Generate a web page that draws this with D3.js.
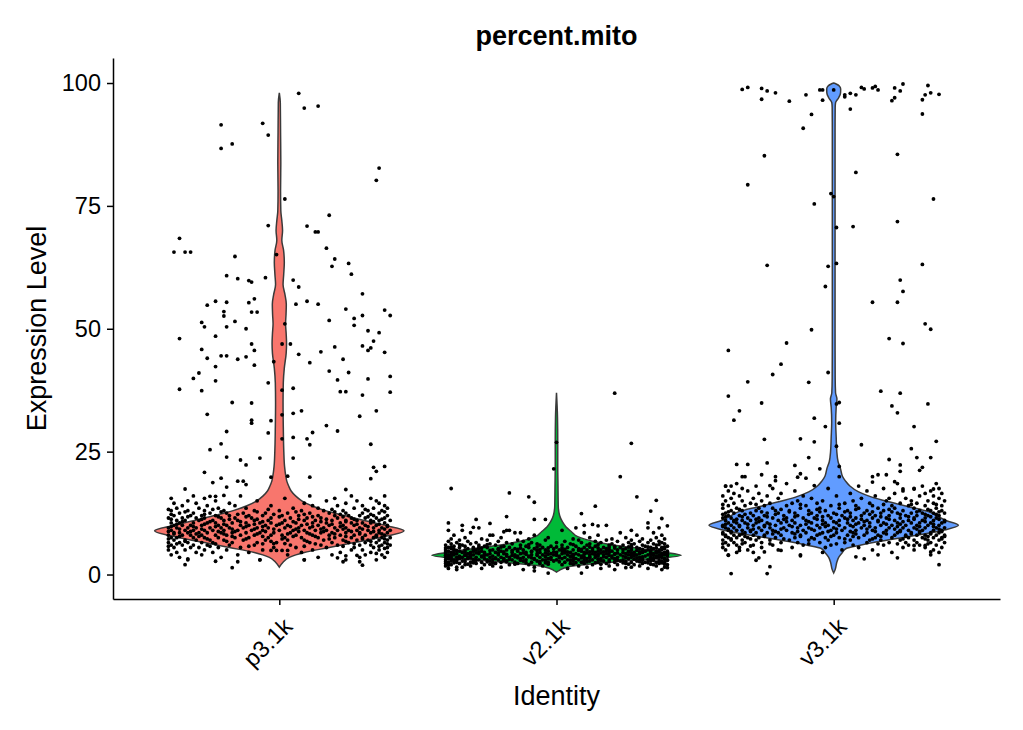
<!DOCTYPE html>
<html>
<head>
<meta charset="utf-8">
<script src="https://cdn.jsdelivr.net/npm/d3@7"></script>
<style>
  body { margin: 0; background: #fff; }
  text { font-family: "Liberation Sans", Arial, Helvetica, sans-serif; fill: #000; }
</style>
</head>
<body>
<div id="chart"></div>
<script>
'use strict';

var categories = [ 'p3.1k', 'v2.1k', 'v3.1k' ];
var colors = [ '#F8766D', '#00BA38', '#619CFF' ];
var yTicks = [ 0, 25, 50, 75, 100 ];

// violin outlines: [value, relative half width]
var p3Density = [ [1.5,0],[2.5,0.03],[3.5,0.08],[4.5,0.2],[5.5,0.4],[6.5,0.6],[7.5,0.8],[8.9,1],[10,0.85],[11,0.68],
  [12,0.52],[13,0.37],[14,0.26],[15,0.18],[16,0.13],[17,0.095],[18,0.075],[19,0.06],[20,0.052],[22,0.042],[25,0.036],
  [30,0.032],[35,0.03],[39,0.032],[42,0.04],[45,0.055],[47,0.058],[49,0.055],[51,0.05],[53,0.054],[55,0.056],[57,0.045],
  [59,0.03],[61,0.035],[63.5,0.04],[66,0.034],[68,0.02],[70,0.026],[72,0.02],[74,0.012],[78,0.01],[84,0.012],[90,0.01],
  [96,0.008],[98,0] ];
var v2Density = [ [0.5,0],[0.8,0.02],[1.6,0.1],[2.6,0.48],[3.9,1],[4.6,0.85],[5.3,0.66],[6,0.45],[6.7,0.3],[7.7,0.17],
  [8.7,0.12],[9.7,0.075],[10.7,0.048],[12,0.025],[14,0.014],[18,0.012],[22,0.01],[27,0.01],[32,0.008],[37,0] ];
var v3Density = [ [0.3,0],[1,0.012],[2.5,0.025],[3.5,0.04],[4.5,0.07],[5.3,0.1],[6,0.22],[6.7,0.36],[7.9,0.64],[9,0.88],
  [10,1],[11,0.9],[12,0.82],[12.8,0.76],[13.8,0.6],[14.8,0.44],[15.8,0.3],[16.8,0.2],[18,0.13],[19,0.095],[20,0.07],
  [21.5,0.055],[23,0.035],[25,0.025],[28,0.02],[31,0.016],[34,0.02],[35.7,0.026],[37,0.015],[40,0.012],[50,0.011],
  [60,0.011],[70,0.011],[80,0.011],[90,0.011],[95,0.012],[96,0.015],[97,0.04],[98,0.055],[98.8,0.056],[99.4,0.045],
  [99.8,0.02],[100,0] ];

// scattered cells: [jitter offset (category steps), value]
var p3Outer = [ [.07,97.9],[.09,94.9],[.14,95.3],[-.21,91.5],[-.06,91.8],[-.04,89.4],[-.21,86.7],[-.17,87.6],[.36,82.7],
  [.35,80.2],[.02,76.4],[.18,73.1],[-.04,71],[.10,70.9],[.13,69.7],[.14,69.7],[-.36,68.4],[-.38,65.6],[-.34,65.6],
  [-.32,65.6],[-.16,64.7],[.17,66.4],[.20,64.2],[.19,62.7],[.25,63.3],[.26,61.1],[-.19,60.8],[-.15,60.2],[-.11,59.8],
  [-.10,59.5],[-.05,60.4],[-.01,65.1],[.05,59.9],[.07,58.5],[.30,57.1],[-.26,54.8],[-.23,55.6],[-.19,55.4],[-.11,55.3],
  [-.09,56.1],[-.20,53.5],[-.20,52.6],[-.10,53.4],[-.08,53.4],[.06,55.0],[.10,55.6],[.14,55.0],[.24,54.0],[.27,52.1],
  [.27,50.7],[.30,52.7],[.38,53.8],[.40,52.7],[.18,51.7],[-.28,51.3],[-.27,50.4],[-.19,50.4],[-.16,51.5],[-.12,50.0],
  [.02,51.0],[.32,49.6],[.36,49.2],[.34,47.5],[.33,46.1],[.32,45.6],[.30,46.5],[.38,45.2],[.20,46.3],[.15,45.3],
  [.07,44.8],[.04,46.9],[.01,46.9],[-.36,48.0],[-.23,48.5],[-.28,45.8],[-.10,46.9],[-.09,45.6],[-.21,44.5],[-.19,44.5],
  [-.12,44.3],[-.26,44.0],[-.15,43.8],[-.09,42.6],[.11,43.1],[.18,41.4],[.23,43.8],[.25,41.1],[.21,39.6],[.22,37.2],
  [.24,37.2],[.32,39.8],[.40,40.3],[.40,37.1],[.30,36.5],[.35,33.3],[.29,32.2],[-.29,41.0],[-.31,39.9],[-.23,42.3],
  [-.23,39.4],[-.36,37.7],[-.28,37.4],[-.26,32.6],[-.17,35.0],[-.10,34.9],[-.10,31.4],[-.10,30.8],[-.19,29.1],[-.04,39.0],
  [-.02,43.3],[.01,37.5],[.05,37.9],[.05,32.8],[.08,33.3],[-.03,31.3],[.01,32.5],[-.04,28.8],[.01,27.6],[.05,27.9],
  [.12,28.9],[.10,27.6],[.11,26.4],[.17,30.3],[.21,29.2],[.33,26.5],[-.21,26.6],[-.25,25.4],[-.19,23.9],[-.14,23.3],
  [-.12,22.3],[-.07,23.7],[.05,23.7],[-.27,20.8],[-.21,19.6],[-.24,18.7],[-.19,17.8],[-.15,19.0],[-.13,19.0],[-.12,18.3],
  [-.03,19.8],[.03,20.0],[.11,19.8],[.34,21.8],[.35,21.0],[.38,22.0],[.33,19.5],[.24,17.3],[-.34,17.4],[-.25,15.9],
  [-.23,15.9],[-.20,16.1],[-.34,2.0],[-.33,3.2],[-.23,2.7],[-.17,1.4],[-.15,2.6],[-.07,3.0],[.09,3.0],[.21,3.4],[.23,2.6],
  [.24,3.8],[.30,1.9],[.29,2.6],[.28,3.9],[.35,4.3],[.38,5.3],[-.03,4.9],[-.01,4.9],[.01,4.9],[.03,4.9],[-.02,6.3],[.02,6.3] ];

var v2Outer = [ [.21,36.9],[.27,26.7],[.23,19.9],[-.01,21.5],[0,26.9],[-.38,17.5],[-.17,16.6],[-.10,15.8],[-.08,14.7],
  [.29,15.8],[.36,15.1],[.14,13.9],[.09,12.4],[.34,12.9],[-.39,10.5],[-.30,9.6],[-.29,11.2],[-.24,10.4],[-.18,11.8],
  [-.08,11.2],[-.04,11.2],[.38,11.4],[.33,10.5],[.40,9.9],[.37,9.5],[.10,10.0],[.13,10.2],[.15,9.9],[-.34,9.0],[-.23,8.0],
  [-.19,8.7],[-.17,9.0],[-.15,8.5],[-.08,0.75],[-.03,0.3],[.09,0.3],[.25,1.4],[.40,1.4],[-.39,1.9],[-.36,1.5] ];

var v3Outer = [ [-.33,98.7],[-.31,99.1],[-.26,98.9],[-.24,98.4],[-.21,98.0],[-.26,96.7],[-.16,96.3],[-.10,97.6],[-.05,98.6],
  [-.04,98.6],[-.04,96.5],[0,98.6],[.04,97.6],[.04,97.2],[.06,97.9],[.08,97.6],[.10,99.1],[.11,98.8],[.14,99.0],[.15,99.3],
  [.16,98.6],[.22,99.0],[.24,98.4],[.25,99.8],[.21,96.4],[.22,97.0],[.32,96.6],[.33,97.6],[.35,98.0],[.38,97.7],[.34,99.5],
  [.06,94.7],[-.08,93.6],[.32,93.7],[-.11,90.8],[-.25,85.2],[.23,85.5],[.08,81.8],[-.31,79.3],[.36,76.4],[-.01,77.5],
  [0,76.9],[-.07,75.4],[.01,70.6],[.07,70.8],[.23,71.8],[-.24,62.9],[-.02,62.7],[.01,63.3],[.32,63.1],[.24,59.9],
  [-.03,58.6],[.25,57.6],[.14,55.4],[.23,55.4],[.33,51.0],[.35,49.9],[-.08,49.8],[-.17,47.1],[.20,48.0],[.25,47.0],
  [-.38,45.6],[-.19,42.8],[-.22,40.7],[-.31,39.2],[-.09,39.1],[-.02,41.1],[-.38,36.3],[-.34,33.3],[-.36,31.4],[-.26,34.9],
  [.02,35.0],[.01,34.7],[-.07,31.8],[-.03,30.1],[.02,30.8],[.17,37.3],[.24,36.9],[.21,34.3],[.23,32.9],[.34,34.7],
  [.29,30.1],[-.25,27.5],[-.12,27.6],[-.07,27.0],[.01,26.1],[.10,26.4],[.37,27.1],[.28,25.6],[-.09,23.8],[.20,23.4],
  [.30,23.8],[.35,23.8],[-.35,22.4],[-.31,22.4],[-.24,22.7],[-.14,22.2],[.24,22.3],[.24,21.0],[.31,21.2],[.32,21.8],
  [.02,22.0],[-.05,21.5],[-.26,20.3],[-.33,19.9],[-.32,19.9],[-.21,19.9],[-.12,20.5],[-.13,19.8],[-.10,19.6],[.14,19.9],
  [.16,20.3],[.14,18.8],[.19,20.3],[.22,18.9],[.25,17.4],[.29,17.4],[.36,17.4],[-.39,18.0],[-.37,18.0],[-.23,18.1],
  [-.21,19.1],[-.07,18.1],[.02,19.9],[-.37,0.2],[-.24,0.2],[-.23,1.6],[-.28,2.9],[-.27,3.4],[-.38,3.9],[-.34,4.9],
  [-.30,5.8],[-.25,4.6],[-.19,4.9],[-.12,3.8],[.08,3.6],[.11,3.2],[.23,3.4],[.35,4.6],[.38,2.0],[.29,5.9],[.33,5.9] ];

// dense cores: [value, jitter offsets in hundredths of a category step]
var p3Core = [
  [3.0,[-33,-7,9,24,35]],
  [3.5,[-36,-21,14,29,38]],
  [4.0,[-39,-28,-15,3,19,31,37]],
  [4.5,[-37,-30,-24,-11,8,22,33,39]],
  [5.0,[-40,-34,-27,-19,-6,12,26,30,36]],
  [5.5,[-38,-32,-29,-22,-14,-2,6,17,27,34,39]],
  [5.75,[-40,-25,-11,9,23,36]],
  [6.0,[-39,-35,-31,-26,-18,-9,4,15,21,29,33,37,40]],
  [6.25,[-37,-23,-6,13,27,39]],
  [6.5,[-40,-36,-33,-28,-24,-17,-8,-1,11,19,25,31,35,38]],
  [6.75,[-34,-19,-3,10,24,33]],
  [7.0,[-38,-34,-30,-25,-20,-13,-5,3,9,16,23,28,32,36,39]],
  [7.25,[-40,-26,-12,1,18,30,38]],
  [7.5,[-39,-37,-31,-27,-22,-16,-11,-4,2,8,14,20,26,30,34,37,40]],
  [7.75,[-36,-29,-17,-6,5,13,24,35]],
  [8.0,[-40,-35,-32,-28,-23,-19,-14,-9,-3,1,6,12,18,22,27,31,35,38]],
  [8.25,[-38,-30,-20,-8,3,11,20,29,37]],
  [8.5,[-38,-36,-33,-29,-26,-21,-17,-12,-7,-2,4,10,15,19,24,29,33,36,39]],
  [8.75,[-40,-32,-22,-16,-5,7,16,26,34]],
  [9.0,[-39,-34,-31,-27,-24,-20,-15,-10,-6,0,5,9,13,17,21,25,28,32,36,40]],
  [9.25,[-36,-28,-17,-9,-2,6,15,23,30,38]],
  [9.5,[-40,-37,-33,-30,-25,-21,-18,-13,-8,-4,2,7,11,16,20,24,29,34,37]],
  [9.75,[-39,-31,-23,-12,-6,4,12,22,32,39]],
  [10.0,[-38,-35,-32,-28,-22,-19,-14,-11,-5,-1,3,8,14,18,23,27,31,35,39]],
  [10.25,[-37,-27,-20,-9,0,10,19,28,36]],
  [10.5,[-39,-36,-31,-26,-23,-17,-12,-7,-3,1,6,12,17,22,26,30,33,38]],
  [10.75,[-35,-25,-14,-6,5,15,24,34]],
  [11.0,[-37,-34,-29,-24,-20,-15,-9,-4,2,9,13,19,24,28,33,36,40]],
  [11.25,[-39,-28,-18,-8,7,17,27,37]],
  [11.5,[-40,-35,-30,-27,-21,-16,-10,-3,4,10,15,21,26,31,35,38]],
  [11.75,[-33,-22,-12,0,12,23,32]],
  [12.0,[-38,-32,-28,-23,-18,-11,-6,1,7,14,20,25,29,34,39]],
  [12.25,[-39,-27,-15,-2,9,22,33]],
  [12.5,[-36,-31,-25,-19,-13,-5,3,11,18,24,30,36]],
  [12.75,[-34,-21,-8,6,20,38]],
  [13.0,[-39,-33,-27,-20,-9,0,8,16,23,32,37]],
  [13.25,[-40,-24,-4,19,31]],
  [13.5,[-37,-29,-22,-12,5,14,27,34,39]],
  [14.0,[-35,-26,-16,-3,12,21,30,38]],
  [14.5,[-38,-30,-18,9,24,36]],
  [15.0,[-33,-23,-8,17,28,35]],
  [15.5,[-39,-27,2,20,33]],
  [16.0,[-31,-14,11,26,38]] ];

var v2Core = [
  [1.0,[-36,-12,21,38]],
  [1.25,[-39,-27,4,16,33]],
  [1.5,[-34,-20,-8,11,27,39]],
  [1.75,[-40,-31,-23,-5,8,19,30,36]],
  [2.0,[-38,-33,-26,-17,-10,2,13,22,28,35,40]],
  [2.1,[-39,-32,-24,-15,-3,6,16,26,34,39]],
  [2.25,[-40,-35,-29,-22,-14,-6,5,10,18,25,31,37]],
  [2.4,[-37,-30,-23,-11,-4,7,14,24,33,38]],
  [2.5,[-39,-36,-31,-27,-20,-15,-9,-3,3,9,15,21,27,32,36,39]],
  [2.6,[-40,-33,-25,-18,-6,1,11,19,25,30,37]],
  [2.75,[-38,-34,-30,-24,-18,-12,-7,-1,6,12,17,23,29,34,38]],
  [2.9,[-36,-29,-19,-13,-4,5,10,16,22,31,35,40]],
  [3.0,[-40,-37,-33,-28,-25,-21,-16,-11,-5,0,4,8,13,19,24,30,33,37,40]],
  [3.1,[-38,-30,-23,-17,-8,-2,6,15,21,28,34,39]],
  [3.25,[-39,-35,-32,-26,-22,-19,-13,-8,-3,2,7,11,16,21,26,31,35,39]],
  [3.4,[-38,-31,-22,-14,-9,1,9,12,20,25,29,36]],
  [3.5,[-40,-36,-34,-29,-24,-20,-17,-12,-6,-2,3,6,10,14,18,22,27,30,34,38]],
  [3.6,[-39,-32,-27,-15,-10,-4,5,12,17,25,31,37]],
  [3.75,[-38,-35,-31,-27,-23,-18,-14,-10,-4,1,5,9,15,20,24,28,32,36,40]],
  [3.9,[-40,-33,-26,-16,-7,0,6,14,19,27,35,38]],
  [4.0,[-39,-37,-33,-30,-25,-21,-15,-9,-5,-1,4,8,12,17,23,26,29,33,37,39]],
  [4.1,[-38,-31,-26,-18,-11,-3,6,10,15,21,28,34,40]],
  [4.25,[-40,-36,-32,-28,-24,-19,-13,-7,-2,2,7,13,18,21,25,30,35,38]],
  [4.4,[-37,-29,-21,-12,-4,3,11,16,22,27,36,40]],
  [4.5,[-38,-34,-31,-26,-22,-16,-11,-6,0,5,10,14,19,24,28,31,34,39]],
  [4.6,[-40,-33,-28,-19,-9,-1,4,12,17,26,30,37]],
  [4.75,[-39,-35,-30,-27,-20,-14,-9,-3,3,9,15,20,26,32,36,40]],
  [4.9,[-36,-24,-16,-7,2,8,13,18,29,34]],
  [5.0,[-40,-37,-33,-29,-23,-18,-12,-4,1,6,11,16,22,27,33,37]],
  [5.1,[-37,-30,-21,-14,-6,3,9,19,24,31,38]],
  [5.25,[-38,-32,-28,-21,-15,-8,-1,8,13,18,25,30,35,39]],
  [5.4,[-40,-27,-13,-3,2,15,21,27,36]],
  [5.5,[-39,-35,-30,-25,-17,-10,-5,4,10,17,23,29,34,38]],
  [5.6,[-38,-28,-20,-7,0,12,19,26,33,39]],
  [5.75,[-37,-33,-26,-19,-11,-2,7,14,21,27,32,40]],
  [6.0,[-40,-34,-28,-22,-13,-6,2,11,19,24,31,36]],
  [6.1,[-35,-25,-10,6,15,27,37]],
  [6.25,[-38,-31,-24,-16,-7,5,12,20,28,35,39]],
  [6.5,[-36,-29,-18,-9,0,9,16,26,33,38]],
  [6.75,[-39,-32,-21,-12,3,14,22,30,37]],
  [7.0,[-35,-25,-14,-4,8,18,27,34]],
  [7.25,[-38,-27,-10,6,20,31,39]],
  [7.5,[-33,-20,-3,12,25,36]],
  [8.0,[-37,-24,-8,15,29,38]],
  [8.5,[-31,-13,10,23,35]],
  [9.0,[-39,-18,2,27]],
  [9.5,[-28,7,33]],
  [10.0,[-34,18]] ];

var v3Core = [
  [4.0,[-38,-12,16,35]],
  [4.5,[-35,-29,-4,21,38]],
  [5.0,[-39,-31,-20,3,14,29,36]],
  [5.5,[-40,-34,-26,-15,-3,9,25,33,39]],
  [6.0,[-38,-35,-29,-22,-11,-1,7,18,27,31,37]],
  [6.25,[-40,-33,-23,-9,1,16,23,34]],
  [6.5,[-39,-36,-32,-26,-19,-13,-5,4,12,20,26,30,35,40]],
  [7.0,[-40,-37,-33,-28,-23,-16,-9,-2,6,13,17,24,29,34,38]],
  [7.25,[-37,-30,-18,-7,4,14,25,33,39]],
  [7.5,[-38,-35,-31,-27,-21,-14,-8,-3,2,9,15,21,27,32,36,39]],
  [7.75,[-39,-32,-25,-12,-1,7,17,26,34,40]],
  [8.0,[-39,-36,-34,-29,-25,-19,-12,-6,0,5,11,16,22,26,30,33,37,40]],
  [8.25,[-40,-33,-22,-14,-5,8,19,28,35]],
  [8.5,[-40,-37,-32,-28,-24,-20,-15,-10,-4,1,7,12,18,23,28,31,35,38]],
  [8.75,[-37,-30,-21,-13,-2,6,15,24,31,39]],
  [9.0,[-38,-35,-33,-30,-26,-22,-17,-11,-7,-1,3,8,14,19,24,27,32,36,39]],
  [9.25,[-38,-29,-19,-8,1,12,22,30,38]],
  [9.5,[-39,-36,-31,-27,-23,-18,-13,-9,-5,0,4,10,15,20,25,29,33,37,40]],
  [9.75,[-40,-34,-25,-15,-3,7,13,23,31,36]],
  [10.0,[-40,-37,-34,-29,-25,-21,-16,-12,-6,-2,2,6,11,17,21,26,30,34,38]],
  [10.25,[-39,-31,-23,-10,-4,8,19,24,36]],
  [10.5,[-38,-35,-32,-28,-24,-19,-14,-8,-3,1,5,9,13,18,23,28,31,35,39]],
  [10.75,[-36,-27,-17,-9,0,11,16,25,33,40]],
  [11.0,[-39,-36,-33,-30,-26,-20,-15,-10,-4,2,7,12,16,22,27,32,36,40]],
  [11.25,[-35,-28,-18,-6,5,10,20,29,38]],
  [11.5,[-40,-37,-31,-27,-22,-17,-11,-7,-1,4,8,14,19,24,29,33,37]],
  [11.75,[-39,-33,-24,-14,-4,6,17,27,35]],
  [12.0,[-38,-34,-29,-25,-18,-13,-6,-2,3,10,15,20,26,30,34,38]],
  [12.25,[-40,-32,-21,-9,1,13,24,33,37]],
  [12.5,[-39,-36,-30,-24,-20,-14,-8,0,6,11,17,23,28,32,36,40]],
  [12.75,[-38,-26,-16,-5,4,14,21,30,38]],
  [13.0,[-37,-33,-28,-21,-16,-9,-3,5,12,18,25,31,35,39]],
  [13.25,[-34,-19,-6,8,20,34]],
  [13.5,[-40,-35,-27,-22,-12,-5,2,9,16,22,29,37]],
  [14.0,[-38,-32,-25,-17,-10,-1,8,14,21,27,33,39]],
  [14.25,[-40,-28,-12,2,18,28,37]],
  [14.5,[-36,-30,-23,-15,-6,4,13,24,30,36]],
  [15.0,[-39,-33,-26,-13,-4,7,19,28,34,40]],
  [15.5,[-37,-29,-20,-8,10,20,26,38]],
  [16.0,[-40,-34,-24,-11,1,15,31,36]],
  [16.5,[-36,-27,-19,6,22,33,39]],
  [17.0,[-38,-31,-14,12,25,35]],
  [17.5,[-33,-22,-2,18,29,38]],
  [18.0,[-39,-28,9,32]],
  [18.5,[-35,-17,23,37]] ];

var groups = [
  { name: 'p3.1k', density: p3Density, outer: p3Outer, core: p3Core },
  { name: 'v2.1k', density: v2Density, outer: v2Outer, core: v2Core },
  { name: 'v3.1k', density: v3Density, outer: v3Outer, core: v3Core }
];

var width = 1023,
    height = 730,
    panel = { left: 113, right: 1000, top: 58, bottom: 599 };

var svg = d3.select( '#chart' )
  .append( 'svg' )
    .attr( 'width', width )
    .attr( 'height', height );

var x = d3.scalePoint()
    .domain( categories )
    .range( [ panel.left, panel.right ] )
    .padding( 0.6 );

var y = d3.scaleLinear()
    .domain( [ -4.98, 105.09 ] )
    .range( [ panel.bottom, panel.top ] );

var halfMax = 0.45 * x.step();

// violins
groups.forEach( function( g, i ) {
  var xc = x( g.name );
  var area = d3.area()
      .curve( d3.curveMonotoneY )
      .y( function( d ) { return y( d[0] ); } )
      .x0( function( d ) { return xc - d[1] * halfMax; } )
      .x1( function( d ) { return xc + d[1] * halfMax; } );

  svg.append( 'path' )
      .datum( g.density )
      .attr( 'd', area )
      .attr( 'fill', colors[i] )
      .attr( 'stroke', '#3a3a3a' )
      .attr( 'stroke-width', 1.5 );
} );

// jittered cells
groups.forEach( function( g ) {
  var pts = g.outer.slice();
  g.core.forEach( function( row ) {
    row[1].forEach( function( j ) { pts.push( [ j / 100, row[0] ] ); } );
  } );

  svg.append( 'g' )
    .selectAll( 'circle' )
      .data( pts )
    .enter().append( 'circle' )
      .attr( 'cx', function( d ) { return x( g.name ) + d[0] * x.step(); } )
      .attr( 'cy', function( d ) { return y( d[1] ); } )
      .attr( 'r', 1.9 )
      .attr( 'fill', '#000' );
} );

// axes
var yAxis = svg.append( 'g' )
    .attr( 'transform', 'translate(' + panel.left + ',0)' )
    .call( d3.axisLeft( y ).tickValues( yTicks ).tickSize( 6 ).tickSizeOuter( 0 ).tickPadding( 6 ) );

var xAxis = svg.append( 'g' )
    .attr( 'transform', 'translate(0,' + panel.bottom + ')' )
    .call( d3.axisBottom( x ).tickSize( 6 ).tickSizeOuter( 0 ) );

[ yAxis, xAxis ].forEach( function( ax ) {
  ax.select( '.domain' ).attr( 'stroke', '#000' ).attr( 'stroke-width', 1.5 );
  ax.selectAll( '.tick line' ).attr( 'stroke', '#000' ).attr( 'stroke-width', 1.5 );
  ax.selectAll( 'text' ).attr( 'fill', '#000' ).style( 'font-size', '23.5px' )
    .style( 'font-family', '"Liberation Sans", Arial, sans-serif' );
} );

xAxis.selectAll( '.tick text' )
    .attr( 'x', 0 )
    .attr( 'y', 0 )
    .attr( 'dy', '0.72em' )
    .attr( 'transform', 'translate(2,17) rotate(-45)' )
    .style( 'text-anchor', 'end' );

// titles
svg.append( 'text' )
    .attr( 'x', ( panel.left + panel.right ) / 2 )
    .attr( 'y', 45 )
    .attr( 'text-anchor', 'middle' )
    .style( 'font-size', '27px' )
    .style( 'font-weight', 'bold' )
    .text( 'percent.mito' );

svg.append( 'text' )
    .attr( 'x', ( panel.left + panel.right ) / 2 )
    .attr( 'y', 705 )
    .attr( 'text-anchor', 'middle' )
    .style( 'font-size', '27px' )
    .text( 'Identity' );

svg.append( 'text' )
    .attr( 'transform', 'translate(46,' + ( panel.top + panel.bottom ) / 2 + ') rotate(-90)' )
    .attr( 'text-anchor', 'middle' )
    .style( 'font-size', '27px' )
    .text( 'Expression Level' );
</script>
</body>
</html>
